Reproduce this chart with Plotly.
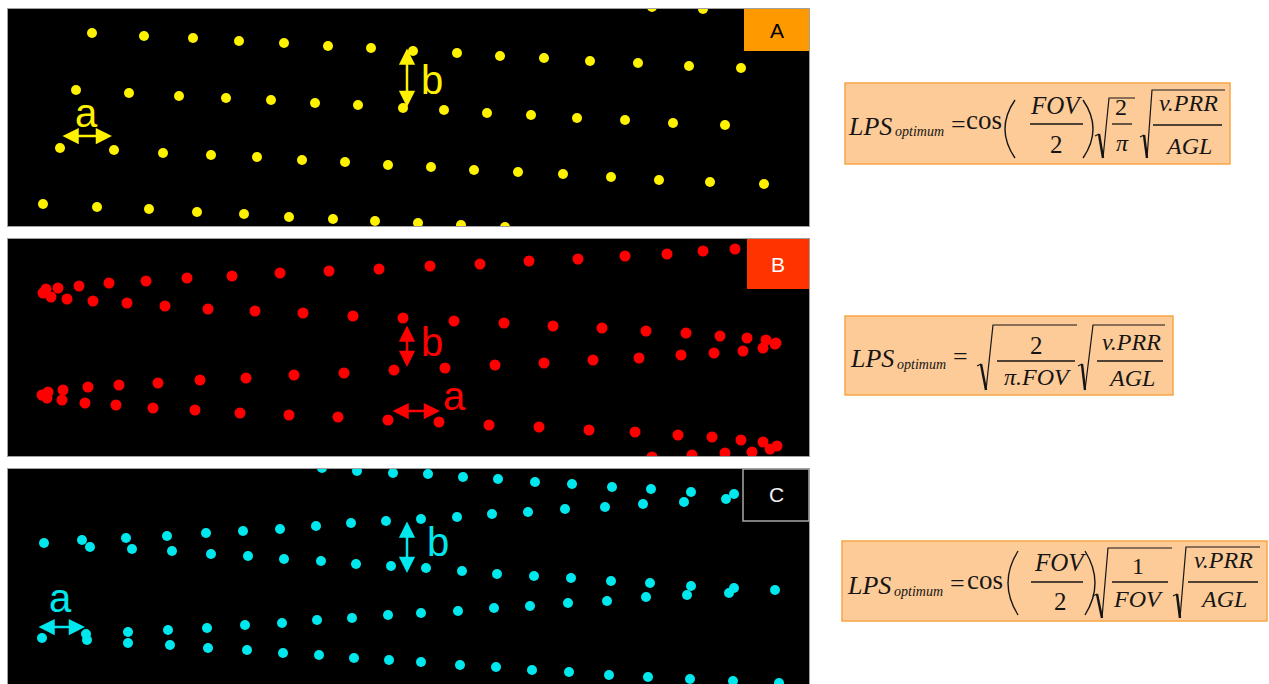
import plotly.graph_objects as go

W, H = 1269, 684

# ---------------- dot lattices (page pixel coordinates) ----------------
# Panel A – regular lattice, yellow
A_X = [652, 703,
       92, 144, 193, 239, 284, 328, 371, 413, 457, 500, 544, 590, 638, 689, 741,
       76, 129, 179, 226, 271, 315, 358, 403, 444, 487, 531, 577, 625, 673, 725,
       60, 114, 163, 211, 257, 302, 345, 388, 431, 474, 518, 563, 611, 659, 710, 764,
       43, 97, 149, 197, 244, 289, 333, 375, 418, 461, 505]
A_Y = [7, 9,
       33, 36, 38, 41, 43, 46, 48, 51, 53, 56, 58, 61, 63, 66, 68,
       90, 93, 96, 98, 100, 103, 105, 108, 110, 113, 115, 118, 120, 123, 125,
       148, 150, 153, 155, 157, 160, 162, 165, 167, 170, 172, 174, 177, 180, 182, 184,
       204, 207, 209, 212, 214, 217, 219, 221, 223, 225, 227]

# Panel B – zig-zag scan lines, red
B_X = [46, 58, 79, 109, 146, 187, 232, 280, 329, 379, 430, 480, 529, 578, 625, 667, 703, 735,
       43, 51, 67, 93, 127, 165, 208, 255, 303, 353, 403, 454, 504, 553, 602, 646, 686, 720, 747, 766, 776,
       42, 48, 63, 88, 119, 158, 200, 246, 294, 344, 394, 445, 495, 544, 593, 639, 681, 714, 743, 763, 775,
       47, 62, 85, 116, 153, 195, 240, 289, 338, 388, 439, 489, 539, 589, 635, 678, 712, 741, 763, 777,
       652, 692, 725, 752, 770]
B_Y = [289, 288, 286, 283, 281, 278, 276, 273, 271, 269, 266, 264, 261, 259, 256, 254, 251, 249,
       293, 297, 299, 301, 303, 306, 309, 311, 313, 316, 318, 321, 323, 326, 328, 331, 333, 336, 338, 340, 343,
       395, 392, 390, 387, 385, 383, 380, 378, 375, 373, 370, 368, 365, 363, 360, 358, 355, 353, 351, 348, 344,
       398, 400, 403, 405, 408, 410, 413, 415, 417, 420, 422, 425, 427, 430, 432, 435, 437, 440, 442, 446,
       457, 455, 453, 452, 449]

# Panel C – paired scan lines, cyan
C_X = [322, 357, 393, 428, 463, 498, 535, 572, 612, 651, 691, 734,
       44, 82, 126, 167, 206, 243, 280, 316, 351, 386, 421, 457, 492, 528, 565, 605, 643, 684, 726,
       90, 132, 172, 211, 248, 284, 321, 356, 391, 426, 462, 497, 534, 571, 611, 650, 691, 734, 775,
       42, 86, 128, 168, 207, 245, 282, 317, 352, 388, 421, 458, 494, 530, 568, 607, 646, 687, 729,
       87, 128, 170, 208, 247, 283, 319, 354, 389, 421, 460, 496, 532, 569, 609, 648, 690, 733, 779]
C_Y = [468, 471, 473, 474, 477, 479, 482, 484, 487, 489, 492, 494,
       543, 540, 538, 536, 533, 531, 529, 526, 523, 521, 519, 517, 514, 512, 509, 507, 504, 502, 499,
       547, 549, 551, 554, 556, 559, 561, 564, 566, 568, 571, 574, 576, 578, 581, 583, 586, 588, 590,
       638, 634, 632, 630, 628, 625, 623, 620, 618, 615, 613, 611, 608, 606, 603, 601, 597, 595, 593,
       640, 643, 645, 648, 650, 653, 655, 658, 660, 662, 665, 667, 670, 672, 675, 677, 679, 681, 683]

PANEL_LABELS = ["A", "B", "C"]

# ---------------- figure ----------------
fig = go.Figure()

panels = [
    dict(x=A_X, y=A_Y, color="#FFF200", size=10, frame=(8, 809, 9, 226),
         tag=dict(box=(744, 809, 9, 51), fill="#FF9900", line="rgba(0,0,0,0)", ink="#000000"),
         a=dict(arrow=(61, 112, 136), label=(86, 113)),
         b=dict(arrow=(407, 47, 107), label=(432, 80))),
    dict(x=B_X, y=B_Y, color="#FF0000", size=11, frame=(8, 809, 239, 456),
         tag=dict(box=(747, 809, 239, 289), fill="#FF3300", line="rgba(0,0,0,0)", ink="#FFFFFF"),
         a=dict(arrow=(391, 440, 411), label=(454, 396)),
         b=dict(arrow=(407, 324, 367), label=(432, 342))),
    dict(x=C_X, y=C_Y, color="#00E8EE", size=10, frame=(8, 809, 469, 684),
         tag=dict(box=(743, 809, 469, 521), fill="#000000", line="#A8A8A8", ink="#F2F2F2"),
         a=dict(arrow=(37, 85, 627), label=(60, 598)),
         b=dict(arrow=(407, 520, 573), label=(438, 542))),
]

for i, p in enumerate(panels, start=1):
    sx = "" if i == 1 else str(i)
    xr, yr = "x" + sx, "y" + sx
    l, r, t, b = p["frame"]
    fig.add_trace(go.Scatter(
        x=p["x"], y=p["y"], mode="markers", xaxis=xr, yaxis=yr,
        marker=dict(size=p["size"], color=p["color"], line=dict(width=0)),
        hoverinfo="skip", showlegend=False))
    axis_style = dict(showgrid=False, zeroline=False, showticklabels=False, ticks="",
                      showline=True, mirror=True, linecolor="#A0A0A0", linewidth=1, fixedrange=True)
    fig.update_layout(**{
        "xaxis" + sx: dict(domain=[l / W, r / W], range=[l, r], anchor=yr, **axis_style),
        "yaxis" + sx: dict(domain=[1 - b / H, 1 - t / H], range=[b, t], anchor=xr, **axis_style),
    })

    # corner tag
    x0, x1, y0, y1 = p["tag"]["box"]
    fig.add_shape(type="rect", xref=xr, yref=yr, x0=x0, x1=x1, y0=y0, y1=y1,
                  fillcolor=p["tag"]["fill"], line=dict(color=p["tag"]["line"], width=1.5))
    fig.add_annotation(xref=xr, yref=yr, x=(x0 + x1) / 2, y=(y0 + y1) / 2,
                       text=PANEL_LABELS[i - 1], showarrow=False,
                       font=dict(family="Liberation Sans", size=21, color=p["tag"]["ink"]))

    # spacing arrows: a (along track) and b (across track)
    ax0, ax1, ay = p["a"]["arrow"]
    bx, by0, by1 = p["b"]["arrow"]
    for (hx, hy, tx, ty) in [(ax1, ay, ax0, ay), (bx, by1, bx, by0)]:
        fig.add_annotation(xref=xr, yref=yr, axref=xr, ayref=yr,
                           x=hx, y=hy, ax=tx, ay=ty, text="", showarrow=True,
                           arrowhead=2, arrowside="end+start", arrowsize=1.3,
                           arrowwidth=2.5, arrowcolor=p["color"], standoff=0, startstandoff=0)
    for letter, key in [("a", "a"), ("b", "b")]:
        lx, ly = p[key]["label"]
        fig.add_annotation(xref=xr, yref=yr, x=lx, y=ly, text=letter, showarrow=False,
                           font=dict(family="Liberation Sans", size=40, color=p["color"]))

# ---------------- formulas ----------------
INK = "#151515"
SERIF = "Liberation Serif"


def px(x):
    return x / W


def py(y):
    return 1 - y / H


def txt(x, y, s, size, italic=True):
    fig.add_annotation(xref="paper", yref="paper", x=px(x), y=py(y),
                       text=f"<i>{s}</i>" if italic else s, showarrow=False,
                       xanchor="center", yanchor="middle",
                       font=dict(family=SERIF, size=size, color=INK))


def bar(x0, x1, y):
    fig.add_shape(type="line", xref="paper", yref="paper",
                  x0=px(x0), x1=px(x1), y0=py(y), y1=py(y),
                  line=dict(color=INK, width=1.3))


def path(points, width=1.4, curve=False):
    if curve:
        (a, b), (c, d), (e, f) = points
        d_str = f"M {px(a):.5f},{py(b):.5f} Q {px(c):.5f},{py(d):.5f} {px(e):.5f},{py(f):.5f}"
    else:
        d_str = "M " + " L ".join(f"{px(a):.5f},{py(b):.5f}" for a, b in points)
    fig.add_shape(type="path", xref="paper", yref="paper", path=d_str,
                  line=dict(color=INK, width=width))


def radical(xs, ys, xb, yb, xt, yt, xe):
    path([(xs, ys), (xs + 4, ys - 2)], width=1.2)
    path([(xs + 4, ys - 2), (xb, yb)], width=2.4)
    path([(xb, yb), (xt, yt), (xe, yt)], width=1.2)


def box(x0, x1, y0, y1):
    fig.add_shape(type="rect", xref="paper", yref="paper",
                  x0=px(x0), x1=px(x1), y0=py(y1), y1=py(y0),
                  fillcolor="#FDCB98", line=dict(color="#F7A646", width=1.5), layer="below")


def lhs(x, y):
    txt(x, y, "LPS", 26)
    txt(x + 49, y + 6, "optimum", 14)
    txt(x + 88, y - 2, "=", 26, italic=False)


# Formula for panel A
box(845, 1230, 83, 164)
lhs(870, 126)
txt(984, 120, "cos", 27, italic=False)
path([(1015, 100), (995, 129), (1015, 158)], curve=True)
path([(1083, 100), (1103, 129), (1083, 158)], curve=True)
txt(1056, 106, "FOV", 25)
bar(1030, 1083, 124)
txt(1056, 144, "2", 25, italic=False)
radical(1095, 136, 1103, 158, 1109, 98, 1135)
txt(1121, 107, "2", 24, italic=False)
bar(1112, 1132, 124)
txt(1122, 143, "π", 24)
radical(1140, 137, 1147, 158, 1152, 90, 1225)
txt(1188, 103, "v.PRR", 24)
bar(1153, 1222, 125)
txt(1188, 146, "AGL", 24)

# Formula for panel B
box(845, 1173, 316, 395)
lhs(872, 358)
radical(977, 366, 986, 390, 993, 325, 1077)
txt(1036, 345, "2", 25, italic=False)
bar(997, 1075, 361)
txt(1037, 377, "π.FOV", 24)
radical(1078, 366, 1085, 390, 1093, 325, 1165)
txt(1131, 342, "v.PRR", 24)
bar(1097, 1163, 361)
txt(1131, 378, "AGL", 24)

# Formula for panel C
box(842, 1267, 541, 621)
lhs(869, 585)
txt(985, 580, "cos", 27, italic=False)
path([(1018, 551), (998, 583), (1018, 615)], curve=True)
path([(1085, 551), (1105, 583), (1085, 615)], curve=True)
txt(1060, 562, "FOV", 25)
bar(1031, 1083, 582)
txt(1060, 601, "2", 25, italic=False)
radical(1093, 596, 1102, 618, 1108, 548, 1172)
txt(1138, 566, "1", 24, italic=False)
bar(1112, 1168, 582)
txt(1138, 599, "FOV", 24)
radical(1173, 596, 1180, 618, 1186, 547, 1260)
txt(1223, 560, "v.PRR", 24)
bar(1188, 1258, 582)
txt(1223, 599, "AGL", 24)

fig.update_layout(
    width=W, height=H,
    margin=dict(l=0, r=0, t=0, b=0),
    paper_bgcolor="#FFFFFF", plot_bgcolor="#000000",
    showlegend=False,
)

fig.write_html("out.html")
